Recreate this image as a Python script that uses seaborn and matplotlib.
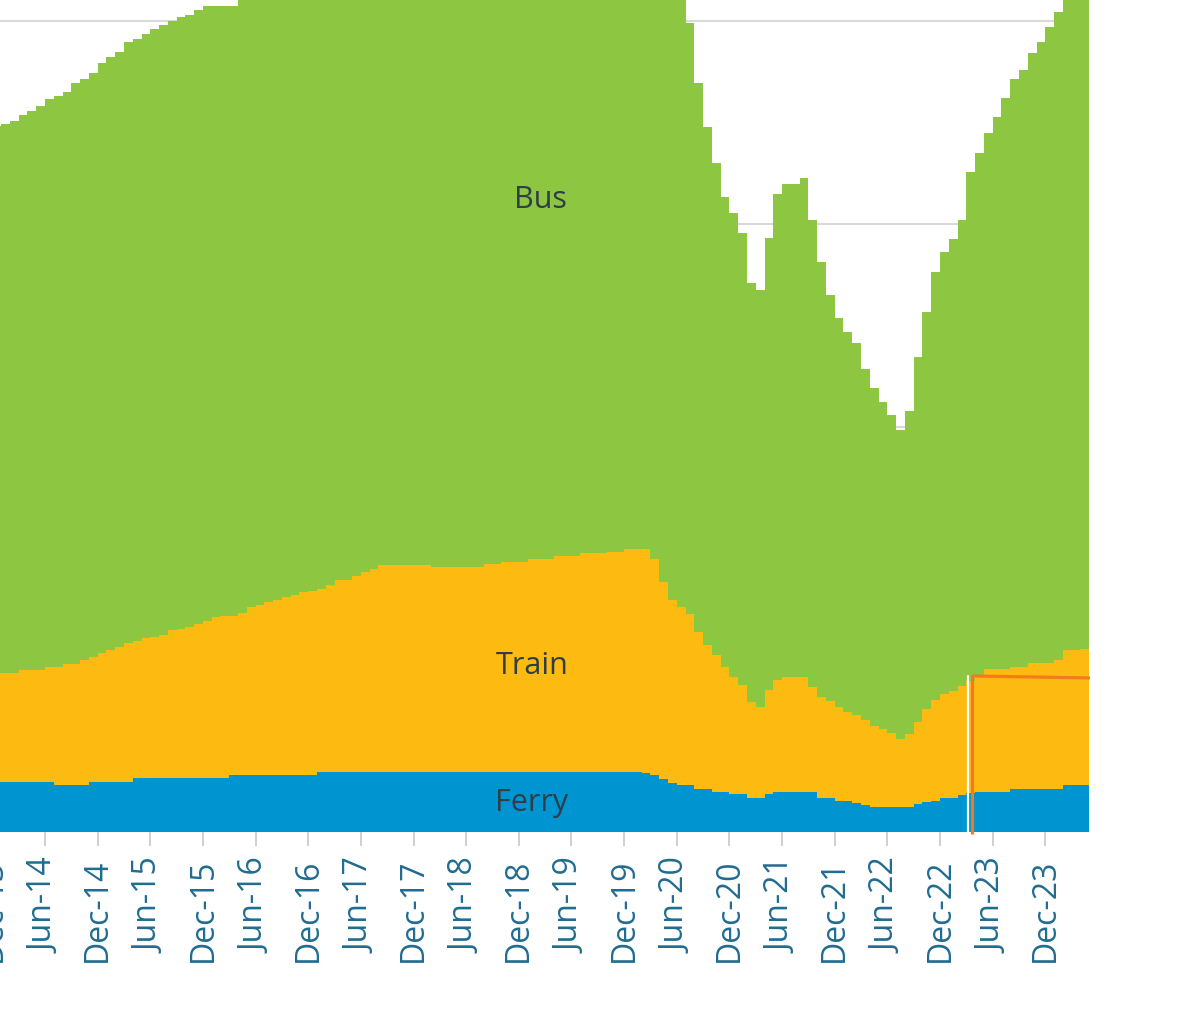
import numpy as np
import matplotlib
matplotlib.use("Agg")
import matplotlib.pyplot as plt
import seaborn as sns

# monthly values, Dec-13 .. Apr-24 (one row per calendar year)
ferry = [2.48,
         2.48, 2.48, 2.48, 2.48, 2.48, 2.48, 2.32, 2.32, 2.32, 2.32, 2.48, 2.48,
         2.48, 2.48, 2.48, 2.65, 2.65, 2.65, 2.65, 2.65, 2.65, 2.65, 2.65, 2.65,
         2.65, 2.65, 2.81, 2.81, 2.81, 2.81, 2.81, 2.81, 2.81, 2.81, 2.81, 2.81,
         2.95, 2.95, 2.95, 2.95, 2.95, 2.95, 2.95, 2.95, 2.95, 2.95, 2.95, 2.95,
         2.95, 2.95, 2.95, 2.95, 2.95, 2.95, 2.95, 2.95, 2.95, 2.95, 2.95, 2.95,
         2.95, 2.95, 2.95, 2.95, 2.95, 2.95, 2.95, 2.95, 2.95, 2.95, 2.95, 2.95,
         2.95, 2.93, 2.81, 2.60, 2.43, 2.32, 2.32, 2.11, 2.11, 1.96, 1.96, 1.86,
         1.86, 1.69, 1.69, 1.86, 1.99, 1.99, 1.99, 1.99, 1.99, 1.69, 1.69, 1.53,
         1.53, 1.45, 1.33, 1.22, 1.22, 1.22, 1.22, 1.22, 1.37, 1.49, 1.55, 1.66,
         1.66, 1.83, 1.90, 1.99, 1.99, 1.99, 1.99, 2.12, 2.12, 2.12, 2.12, 2.12,
         2.12, 2.32, 2.32, 2.32]

train = [5.35,
         5.35, 5.35, 5.51, 5.51, 5.51, 5.68, 5.84, 5.97, 5.97, 6.17, 6.17, 6.34,
         6.50, 6.66, 6.83, 6.79, 6.91, 6.95, 7.07, 7.30, 7.36, 7.47, 7.61, 7.77,
         7.94, 8.01, 7.85, 8.01, 8.28, 8.39, 8.55, 8.64, 8.80, 8.88, 9.05, 9.09,
         9.05, 9.24, 9.48, 9.48, 9.68, 9.89, 10.05, 10.22, 10.22, 10.22, 10.22, 10.22,
         10.22, 10.14, 10.14, 10.14, 10.14, 10.14, 10.14, 10.25, 10.25, 10.35, 10.35, 10.35,
         10.50, 10.50, 10.50, 10.67, 10.67, 10.67, 10.83, 10.83, 10.83, 10.88, 10.88, 11.00,
         11.00, 11.02, 10.64, 9.75, 9.02, 8.80, 8.43, 7.77, 7.12, 6.77, 6.20, 5.80,
         5.39, 4.74, 4.49, 5.14, 5.51, 5.67, 5.67, 5.67, 5.18, 4.98, 4.76, 4.65,
         4.40, 4.32, 4.20, 4.01, 3.85, 3.65, 3.35, 3.61, 4.07, 4.56, 4.95, 5.14,
         5.29, 5.37, 5.55, 5.76, 6.04, 6.04, 6.04, 6.04, 6.04, 6.20, 6.20, 6.20,
         6.37, 6.66, 6.66, 6.73]

bus = [27.02,
       27.10, 27.26, 27.38, 27.59, 27.83, 27.99, 28.15, 28.23, 28.68, 28.64, 28.81, 29.10,
       29.24, 29.36, 29.69, 29.71, 29.81, 30.00, 30.09, 30.07, 30.18, 30.19, 30.29, 30.33,
       30.16, 30.09, 30.09, 30.38, 30.31, 30.30, 30.34, 30.35, 30.39, 30.41, 30.34, 30.40,
       30.3, 30.3, 30.2, 30.3, 30.2, 30.2, 30.1, 30.1, 30.2, 30.1, 30.1, 30.0,
       30.1, 30.0, 30.0, 29.9, 30.0, 29.9, 29.9, 29.9, 29.8, 29.8, 29.9, 29.8,
       29.7, 29.8, 29.7, 29.7, 29.6, 29.7, 29.6, 29.6, 29.5, 29.6, 29.5, 29.5,
       29.4, 29.4, 29.0, 29.6, 30.0, 30.1, 29.15, 27.07, 25.55, 24.27, 23.17, 22.88,
       22.30, 20.65, 20.56, 22.30, 23.97, 24.31, 24.31, 24.60, 23.02, 21.45, 20.04, 19.18,
       18.74, 18.35, 17.31, 16.67, 16.14, 15.70, 15.26, 15.94, 17.99, 19.60, 21.13, 21.81,
       22.31, 22.99, 25.11, 25.75, 26.45, 27.24, 28.18, 28.99, 29.43, 30.11, 30.65, 31.39,
       31.96, 32.32, 32.62, 32.85]

tick_labels = ["Dec-13", "Jun-14", "Dec-14", "Jun-15", "Dec-15", "Jun-16", "Dec-16",
               "Jun-17", "Dec-17", "Jun-18", "Dec-18", "Jun-19", "Dec-19", "Jun-20",
               "Dec-20", "Jun-21", "Dec-21", "Jun-22", "Dec-22", "Jun-23", "Dec-23"]

colors = {"Ferry": "#0095D1", "Train": "#FDBB12", "Bus": "#8DC640"}

sns.set_theme(style="whitegrid")
plt.rcParams["font.family"] = ["Open Sans", "DejaVu Sans"]

fig = plt.figure(figsize=(12, 10.17), dpi=100)
ax = fig.add_axes([-0.01667, 0.1819, 0.9233, 0.8181])

# stack the modes
layers = [("Ferry", ferry), ("Train", train), ("Bus", bus)]
edges = np.arange(len(ferry) + 1)
base = np.zeros(len(ferry))
for name, vals in layers:
    top = base + np.array(vals)
    ax.fill_between(edges, np.append(base, base[-1]), np.append(top, top[-1]),
                    step="post", color=colors[name], lw=0, zorder=2)
    base = top

# series labels
txt = dict(fontsize=22, color="#2f3e46", ha="center", va="center", zorder=5)
ax.text(62.5, 31.2, "Bus", **txt)
ax.text(61.5, 8.2, "Train", **txt)
ax.text(61.5, 1.45, "Ferry", **txt)

# highlight marker
ax.plot([111.2, 111.2], [0, 7.7], color="white", lw=1.6, zorder=6)
ax.plot([111.6, 111.6], [-0.1, 7.7], color="#F47A20", lw=2.3, zorder=7,
        solid_capstyle="butt", clip_on=False)
ax.plot([111.6, 125.1], [7.7, 7.6], color="#F47A20", lw=2.3, zorder=7,
        solid_capstyle="butt", clip_on=False)

ax.set_xlim(-1.407, 124.86)
ax.set_ylim(0, 41.05)
ax.set_yticks([0, 10, 20, 30, 40])
ax.set_yticklabels([])
ax.set_xticks(np.arange(0, 121, 6))
ax.set_xticklabels(tick_labels, rotation=90, fontsize=23, color="#206C91")
ax.grid(axis="x", visible=False)
ax.grid(axis="y", color="#D9D9D9", lw=1.5, zorder=0)
ax.set_axisbelow(True)
ax.tick_params(axis="x", direction="out", length=10, width=1.2,
               color="#C8C8C8", pad=9, bottom=True)
ax.tick_params(axis="y", length=0)
for s in ax.spines.values():
    s.set_visible(False)

fig.savefig("out.png", dpi=100, facecolor="white")
